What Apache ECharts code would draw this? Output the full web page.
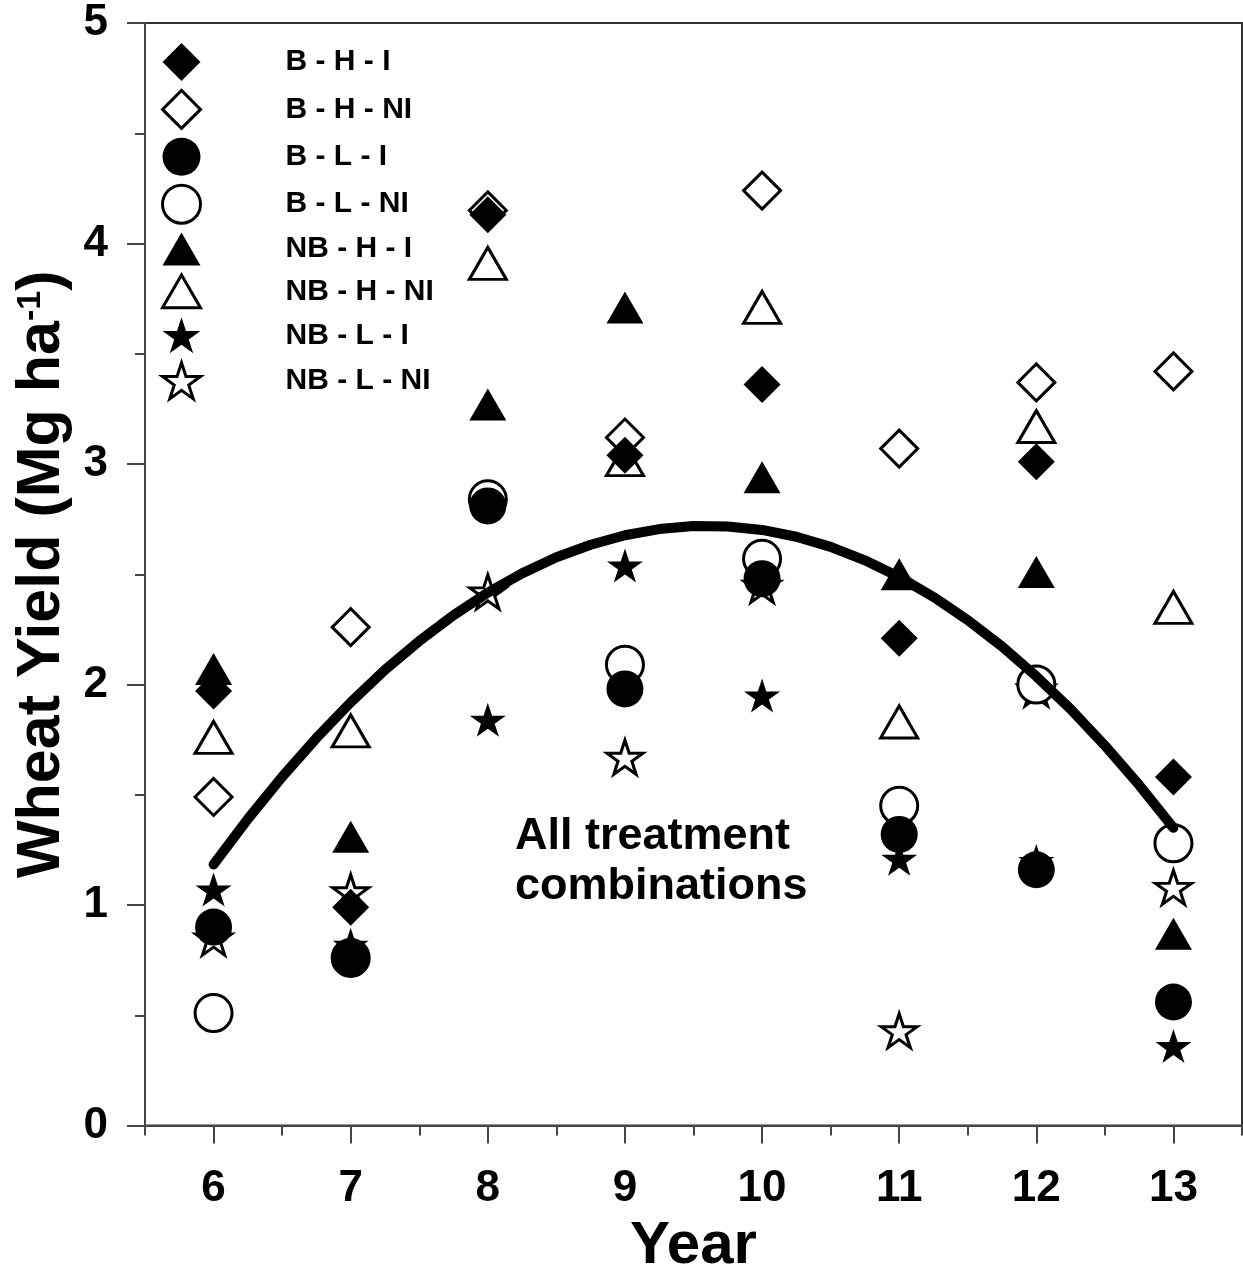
<!DOCTYPE html>
<html>
<head>
<meta charset="utf-8">
<script src="https://cdn.jsdelivr.net/npm/echarts@6/dist/echarts.min.js"></script>
<style>
html,body{margin:0;padding:0;background:#fff;overflow:hidden;}
#chart{width:1243px;height:1274px;}
</style>
</head>
<body>
<div id="chart"></div>
<script>
// ---- data ----
const years = [6, 7, 8, 9, 10, 11, 12, 13];
const seriesNames = ['B - H - I', 'B - H - NI', 'B - L - I', 'B - L - NI', 'NB - H - I', 'NB - H - NI', 'NB - L - I', 'NB - L - NI'];
const bhi   = [1.97, 0.99, 4.13, 3.04, 3.36, 2.21, 3.01, 1.58];
const bhni  = [1.49, 2.26, 4.15, 3.12, 4.24, 3.07, 3.37, 3.42];
const bli   = [0.90, 0.76, 2.81, 1.98, 2.48, 1.32, 1.16, 0.56];
const blni  = [0.51, 0.76, 2.84, 2.09, 2.57, 1.45, 2.00, 1.28];
const nbhi  = [2.07, 1.31, 3.27, 3.71, 2.94, 2.50, 2.51, 0.87];
const nbhni = [1.76, 1.79, 3.91, 3.02, 3.71, 1.83, 3.17, 2.35];
const nbli  = [1.07, 0.82, 1.84, 2.54, 1.95, 1.21, 1.20, 0.36];
const nblni = [0.85, 1.06, 2.42, 1.67, 2.45, 0.43, 1.98, 1.08];
// fitted curve (every quarter year)
const curveX = [6, 6.25, 6.5, 6.75, 7, 7.25, 7.5, 7.75, 8, 8.25, 8.5, 8.75, 9, 9.25, 9.5, 9.75,
                10, 10.25, 10.5, 10.75, 11, 11.25, 11.5, 11.75, 12, 12.25, 12.5, 12.75, 13];
const curveY = [1.184, 1.390, 1.581, 1.757, 1.919, 2.066, 2.197, 2.314, 2.417, 2.504, 2.577, 2.634, 2.677, 2.705, 2.719, 2.717,
                2.701, 2.670, 2.624, 2.563, 2.488, 2.397, 2.292, 2.172, 2.037, 1.888, 1.723, 1.544, 1.350];
const yTicks = [0, 1, 2, 3, 4, 5];
const annotation = 'All treatment\ncombinations';

// ---- styling ----
const FONT = '"Liberation Sans", Arial, Helvetica, sans-serif';
const STAR = 'path://M50,0L61.23,34.55L97.55,34.55L68.17,55.9L79.39,90.45L50,69.1L20.61,90.45L31.83,55.9L2.45,34.55L38.77,34.55Z';
const TRI = 'path://M50,0L100,86.6L0,86.6Z';
const allValues = [bhi, bhni, bli, blni, nbhi, nbhni, nbli, nblni];
const symbols = ['diamond', 'diamond', 'circle', 'circle', TRI, TRI, STAR, STAR];
const sizes = [[37, 37], [37, 37], [37, 37], [37, 37], [37, 32], [37, 32], [36, 34], [36, 34]];
const filled = [true, false, true, false, true, false, true, false];

const series = seriesNames.map((name, i) => ({
  type: 'scatter',
  name: name,
  data: years.map((yr, j) => [yr, allValues[i][j]]),
  symbol: symbols[i],
  symbolSize: sizes[i],
  symbolKeepAspect: false,
  z: 20 - i,
  itemStyle: filled[i]
    ? { color: '#000', borderColor: '#000', borderWidth: 0, opacity: 1 }
    : { color: '#fff', borderColor: '#000', borderWidth: 3, opacity: 1 },
  emphasis: { disabled: true },
  silent: true
}));

series.push({
  type: 'line',
  name: 'fit',
  data: curveX.map((x, i) => [x, curveY[i]]),
  smooth: false,
  showSymbol: false,
  symbol: 'none',
  z: 40,
  lineStyle: { color: '#000', width: 10, cap: 'round', join: 'round' },
  emphasis: { disabled: true },
  silent: true
});

const axisCol = '#444';
const chart = echarts.init(document.getElementById('chart'), null, { renderer: 'canvas' });
chart.setOption({
  animation: false,
  backgroundColor: '#fff',
  grid: {
    left: 145, right: 1, top: 23, bottom: 148.5,
    outerBoundsMode: 'none', containLabel: false,
    show: true, borderColor: '#333', borderWidth: 2, backgroundColor: 'transparent'
  },
  xAxis: [
    {
      type: 'value', min: 5.5, max: 13.5, interval: 0.5, position: 'bottom',
      axisLine: { show: true, onZero: false, lineStyle: { color: axisCol, width: 2 } },
      axisTick: { show: true, length: 10, lineStyle: { color: axisCol, width: 2 } },
      axisLabel: {
        formatter: v => (Number.isInteger(v) ? String(v) : ''),
        margin: 41, fontSize: 44, fontWeight: 'bold', color: '#000', fontFamily: FONT
      },
      splitLine: { show: false },
      name: 'Year', nameLocation: 'middle', nameGap: 91,
      nameTextStyle: { fontSize: 60, fontWeight: 'bold', color: '#000', fontFamily: FONT }
    },
    {
      type: 'value', min: 5.5, max: 13.5, position: 'bottom',
      axisLine: { show: false },
      axisTick: { show: true, length: 18, customValues: years, lineStyle: { color: axisCol, width: 2 } },
      axisLabel: { show: false },
      splitLine: { show: false }
    }
  ],
  yAxis: {
    type: 'value', min: 0, max: 5, interval: 1,
    axisLine: { show: true, onZero: false, lineStyle: { color: axisCol, width: 2 } },
    axisTick: { show: true, length: 18, lineStyle: { color: axisCol, width: 2 } },
    minorTick: { show: true, splitNumber: 2, length: 10, lineStyle: { color: axisCol, width: 2 } },
    axisLabel: {
      formatter: v => (yTicks.includes(v) ? String(v) : ''),
      margin: 37, fontSize: 44, fontWeight: 'bold', color: '#000', fontFamily: FONT
    },
    splitLine: { show: false },
    minorSplitLine: { show: false },
    name: 'Wheat Yield (Mg ha{sup|-1})',
    nameLocation: 'middle', nameGap: 68, nameRotate: 90,
    nameTextStyle: {
      fontSize: 61, fontWeight: 'bold', color: '#000', fontFamily: FONT,
      rich: { sup: { fontSize: 34, fontWeight: 'bold', color: '#000', fontFamily: FONT, padding: [0, 0, 24, 0] } }
    }
  },
  legend: {
    orient: 'vertical', left: 161, top: 43, padding: 0,
    itemWidth: 38, itemHeight: 38, itemGap: 7.9,
    selectedMode: false,
    data: seriesNames.map((n, i) => ({ name: n, itemStyle: filled[i] ? { borderWidth: 0 } : { borderWidth: 3 } })),
    formatter: name => '{t|' + name + '}',
    textStyle: {
      rich: { t: { fontSize: 30, fontWeight: 'bold', color: '#000', fontFamily: FONT, padding: [0, 0, 0, 80] } }
    }
  },
  graphic: [{
    type: 'text', left: 515, top: 812,
    style: {
      text: annotation, x: 0, y: 0,
      font: 'bold 45px ' + FONT, fill: '#000', textAlign: 'left', lineHeight: 50
    }
  }],
  series: series
});
</script>
</body>
</html>
